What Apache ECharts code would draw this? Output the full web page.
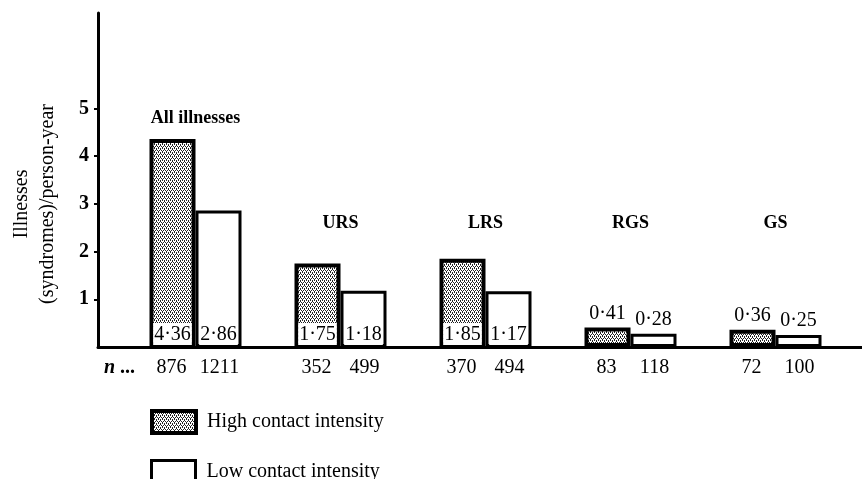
<!DOCTYPE html>
<html>
<head>
<meta charset="utf-8">
<script src="https://cdn.jsdelivr.net/npm/echarts@6.0.0/dist/echarts.min.js"></script>
<style>
html,body{margin:0;padding:0;background:#fff;}
#chart{width:862px;height:479px;}
</style>
</head>
<body>
<div id="chart"></div>
<script>
// ---- data ----
const categories = ['All illnesses', 'URS', 'LRS', 'RGS', 'GS'];
const highContact = [4.36, 1.75, 1.85, 0.41, 0.36];
const lowContact = [2.86, 1.18, 1.17, 0.28, 0.25];
const nHigh = [876, 352, 370, 83, 72];
const nLow = [1211, 499, 494, 118, 100];
const yTicks = [1, 2, 3, 4, 5];
const seriesNames = ['High contact intensity', 'Low contact intensity'];

// ---- styling helpers ----
const FONT = '"Liberation Serif", "DejaVu Serif", serif';
function makePattern() {
  const c = document.createElement('canvas');
  c.width = 4; c.height = 4;
  const g = c.getContext('2d');
  g.fillStyle = '#fff'; g.fillRect(0, 0, 4, 4);
  g.fillStyle = '#222';
  [[0,0],[2,0],[0,1],[1,2],[3,2],[2,3]].forEach(p => g.fillRect(p[0], p[1], 1, 1));
  return c;
}
const pattern = { image: makePattern(), repeat: 'repeat' };
const fmt = v => v.toFixed(2).replace('.', '\u00B7');

function barData(values) {
  return values.map(v => ({
    value: v,
    label: v < 0.5
      ? { position: 'top', distance: 4, backgroundColor: 'transparent', padding: 0 }
      : { position: 'insideBottom', distance: 2 }
  }));
}
const valueLabel = {
  show: true,
  formatter: p => fmt(p.value),
  fontFamily: FONT, fontSize: 20, color: '#000',
  backgroundColor: '#fff', padding: [2, 1, 0, 1]
};
const titleLevels = categories.map((c, i) => i === 0 ? 4.8 : 2.6);

const chart = echarts.init(document.getElementById('chart'), null, { renderer: 'canvas' });
const legendBase = {
  orient: 'vertical', left: 145,
  itemWidth: 44, itemHeight: 22,
  icon: 'rect',
  textStyle: { fontFamily: FONT, fontSize: 20, color: '#000', padding: [0, 0, 0, 6] }
};
chart.setOption({
  animation: false,
  backgroundColor: '#fff',
  grid: [
    { left: 98, right: 0, top: 13, bottom: 132 },
    { left: 123, right: 14, top: 13, bottom: 132 }
  ],
  xAxis: [
    { gridIndex: 0, type: 'value', min: 0, max: 1,
      axisLine: { show: true, onZero: false, lineStyle: { color: '#000', width: 3 } },
      axisTick: { show: false }, axisLabel: { show: false }, splitLine: { show: false } },
    { gridIndex: 1, type: 'category', data: categories,
      axisLine: { show: false }, axisTick: { show: false },
      axisLabel: {
        margin: 11,
        formatter: (v, i) => '{a|' + nHigh[i] + '}{b|' + nLow[i] + '}',
        rich: {
          a: { width: 48, align: 'center', fontFamily: FONT, fontSize: 20, color: '#000' },
          b: { width: 48, align: 'center', fontFamily: FONT, fontSize: 20, color: '#000' }
        }
      } }
  ],
  yAxis: [
    { gridIndex: 0, type: 'value', min: 0, max: 7,
      axisLine: { show: true, lineStyle: { color: '#000', width: 3 } },
      axisTick: { show: true, length: 4, customValues: yTicks, lineStyle: { color: '#000', width: 2 } },
      axisLabel: { customValues: yTicks, margin: 9, fontFamily: FONT, fontSize: 20, fontWeight: 'bold', color: '#000' },
      splitLine: { show: false } },
    { gridIndex: 1, type: 'value', min: 0, max: 7, show: false }
  ],
  legend: [
    Object.assign({}, legendBase, { top: 404,
      data: [{ name: seriesNames[0], itemStyle: { color: pattern, borderColor: '#000', borderWidth: 4 } }] }),
    Object.assign({}, legendBase, { top: 454,
      data: [{ name: seriesNames[1], itemStyle: { color: '#fff', borderColor: '#000', borderWidth: 3 } }] })
  ],
  graphic: [
    { type: 'text', x: 35, y: 204, rotation: Math.PI / 2,
      style: { text: 'Illnesses\n(syndromes)/person-year', align: 'center', verticalAlign: 'middle',
               font: '20px ' + FONT, lineHeight: 26, fill: '#000' } },
    { type: 'text', x: 104, y: 368,
      style: { text: '{i|n} ...', verticalAlign: 'middle',
               rich: { i: { fontStyle: 'italic', fontFamily: FONT, fontSize: 20, fontWeight: 'bold' } },
               font: 'bold 20px ' + FONT, fill: '#000' } }
  ],
  series: [
    { name: seriesNames[0], type: 'bar', xAxisIndex: 1, yAxisIndex: 1,
      barWidth: 46, barGap: '0%',
      itemStyle: { color: pattern, borderColor: '#000', borderWidth: 4 },
      label: valueLabel,
      data: barData(highContact), z: 3 },
    { name: seriesNames[1], type: 'bar', xAxisIndex: 1, yAxisIndex: 1,
      barWidth: 46, barGap: '0%',
      itemStyle: { color: '#fff', borderColor: '#000', borderWidth: 3 },
      label: valueLabel,
      data: barData(lowContact), z: 2 },
    { name: 'titles', type: 'scatter', xAxisIndex: 1, yAxisIndex: 1,
      symbolSize: 1, itemStyle: { color: '#fff', opacity: 1 }, silent: true,
      label: { show: true, position: 'inside', formatter: p => categories[p.dataIndex],
               fontFamily: FONT, fontSize: 18, fontWeight: 'bold', color: '#000', opacity: 1 },
      data: titleLevels }
  ]
});
</script>
</body>
</html>
